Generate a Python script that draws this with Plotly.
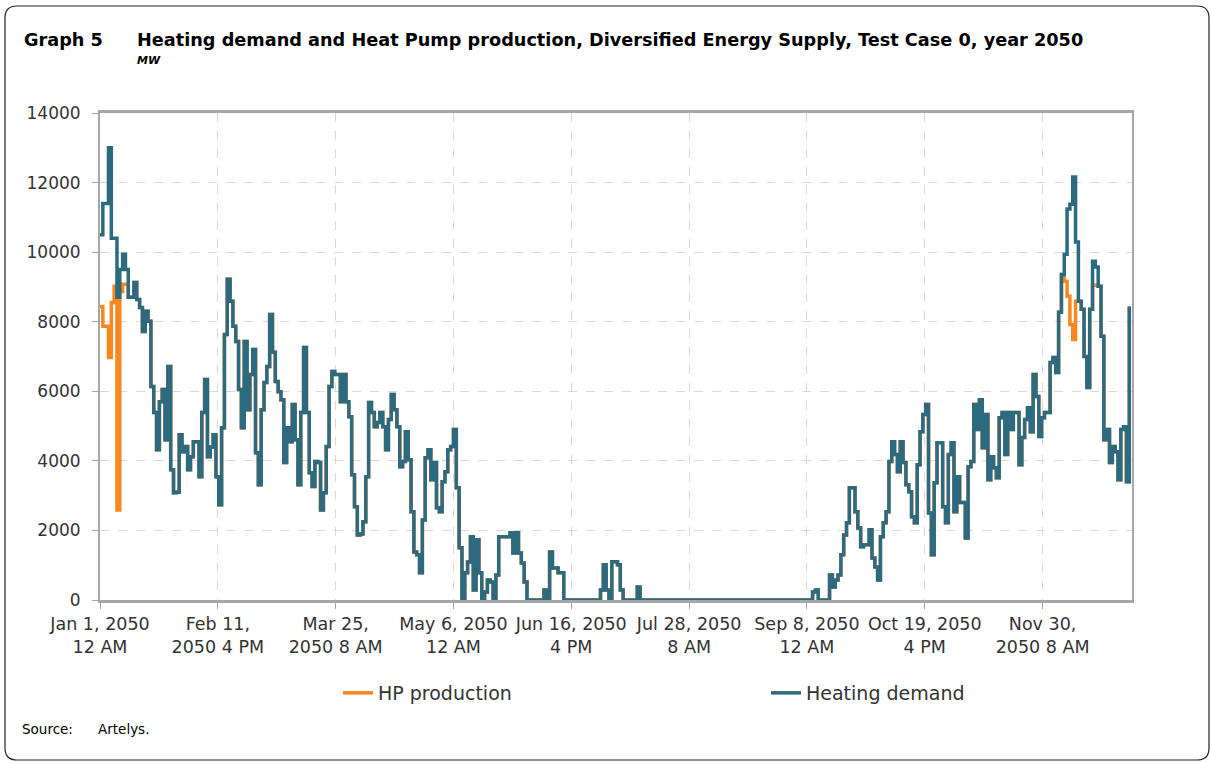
import pandas as pd
import plotly.graph_objects as go

# daily heating demand, MW (one value per day of 2050)
heating_demand = [
    10500, 11400, 11400, 13000, 10400, 10400, 8700, 9500, 9940, 9500,
    8700, 8700, 9130, 8640, 8410, 7720, 8300, 8010, 6140, 5390,
    4320, 5700, 6050, 4610, 6710, 3745, 3080, 3100, 4750, 4260,
    4410, 3745, 4120, 4550, 4550, 3540, 5390, 6340, 4120, 4400,
    4750, 3540, 2740, 4950, 7630, 9220, 8590, 7870, 7430, 6050,
    4950, 7430, 5470, 6480, 7200, 4230, 3310, 5470, 6250, 6710,
    8210, 7120, 6280, 5990, 5760, 3950, 4950, 4550, 5620, 4610,
    3310, 5390, 7260, 5390, 3660, 3260, 3980, 3950, 2590, 3080,
    4410, 6140, 6570, 6480, 6480, 5700, 6480, 5700, 5270, 3600,
    2680, 1870, 1900, 2250, 3540, 5680, 5390, 4980, 5100, 5390,
    4980, 4320, 5190, 5910, 5470, 4980, 3830, 3980, 4840, 4030,
    2535, 1380, 1300, 780, 2300, 4090, 4320, 3460, 3950, 2650,
    2535, 3400, 3690, 4320, 4410, 4900, 3230, 1500, 0, 780,
    1095, 1815, 290, 1730, 780, 0, 230, 575, 520, 0,
    720, 1815, 1815, 1815, 1815, 1930, 1350, 1930, 1350, 1065,
    520, 0, 0, 0, 0, 0, 0, 290, 0, 1380,
    920, 920, 780, 780, 0, 0, 0, 0, 0, 0,
    0, 0, 0, 0, 0, 0, 0, 290, 1010, 290,
    0, 1100, 1100, 1010, 290, 0, 0, 0, 0, 0,
    375, 0, 0, 0, 0, 0, 0, 0, 0, 0,
    0, 0, 0, 0, 0, 0, 0, 0, 0, 0,
    0, 0, 0, 0, 0, 0, 0, 0, 0, 0,
    0, 0, 0, 0, 0, 0, 0, 0, 0, 0,
    0, 0, 0, 0, 0, 0, 0, 0, 0, 0,
    0, 0, 0, 0, 0, 0, 0, 0, 0, 0,
    0, 0, 230, 290, 0, 0, 0, 0, 720, 375,
    575, 720, 1300, 1870, 2220, 3230, 3230, 2535, 2070, 1530,
    1585, 1585, 2020, 1210, 950, 575, 1815, 2220, 2535, 3980,
    4550, 4180, 3690, 4550, 3950, 3310, 3110, 2390, 2220, 3890,
    4840, 5330, 5620, 2500, 1300, 3370, 4520, 4520, 2680, 2220,
    4180, 4520, 2535, 3540, 2800, 2800, 1785, 3830, 3980, 5620,
    4900, 5760, 4380, 5330, 3460, 4120, 3800, 3515, 5240, 5390,
    4180, 5390, 4900, 5390, 5390, 3890, 4670, 5190, 5530, 4840,
    6480, 5850, 4700, 5240, 5390, 5390, 6830, 6970, 6540, 8270,
    9360, 9940, 11240, 11380, 12160, 10290, 8590, 8360, 7000, 6110,
    8360, 9740, 9570, 9020, 7580, 4610, 4900, 3950, 4410, 4260,
    3460, 4900, 4980, 3400, 8440,
]

# days where heat pump output falls short of demand
hp_short_days = [0, 1, 2, 3, 4, 5, 6, 7, 8, 9, 341, 342, 343, 344, 345, 351, 352]
hp_short_values = [8440, 7870, 7870, 6970, 8550, 9020, 2590, 8870, 9075, 9075,
                   9160, 8730, 7920, 7490, 8590, 9050, 9050]

tick_text = [
    "Jan 1, 2050<br>12 AM", "Feb 11,<br>2050 4 PM", "Mar 25,<br>2050 8 AM",
    "May 6, 2050<br>12 AM", "Jun 16, 2050<br>4 PM", "Jul 28, 2050<br>8 AM",
    "Sep 8, 2050<br>12 AM", "Oct 19, 2050<br>4 PM", "Nov 30,<br>2050 8 AM",
]

dates = pd.date_range("2050-01-01", periods=len(heating_demand), freq="D")
hp_production = list(heating_demand)
for d, v in zip(hp_short_days, hp_short_values):
    hp_production[d] = v

tick_vals = pd.date_range("2050-01-01", periods=len(tick_text), freq="1000h")

FONT = "DejaVu Sans"
BLUE = "#2c6a80"
ORANGE = "#f7871f"

W, H = 1211, 763
L, R, T, B = 100, 1132, 113, 600


def px(x):
    return (x - L) / (R - L)


def py(y):
    return (B - y) / (B - T)


fig = go.Figure()
fig.add_trace(go.Scatter(x=dates, y=hp_production, name="HP production", legend="legend",
                         mode="lines", line=dict(color=ORANGE, width=3.5, shape="hv")))
fig.add_trace(go.Scatter(x=dates, y=heating_demand, name="Heating demand", legend="legend2",
                         mode="lines", line=dict(color=BLUE, width=3.5, shape="hv")))

axis_common = dict(showline=True, linecolor="#a6a6a6", mirror=True,
                   gridcolor="#d9d9d9", griddash="dash", gridwidth=1,
                   ticks="outside", ticklen=6, tickcolor="#a6a6a6",
                   zeroline=False)

fig.update_xaxes(range=["2050-01-01", "2050-12-31 23:00"], tickvals=tick_vals,
                 ticktext=tick_text, linewidth=3,
                 tickfont=dict(family=FONT, size=17.5, color="#333333"), **axis_common)
fig.update_yaxes(range=[0, 14000], dtick=2000, tickformat="d", linewidth=2,
                 ticklabelstandoff=8,
                 tickfont=dict(family=FONT, size=17, color="#333333"), **axis_common)

# rounded outer frame
x0, x1, y0, y1 = px(5), px(1209), py(6), py(760)
rx, ry = 12 / (R - L), 12 / (B - T)
frame = (f"M{x0 + rx},{y0} L{x1 - rx},{y0} Q{x1},{y0} {x1},{y0 - ry} "
         f"L{x1},{y1 + ry} Q{x1},{y1} {x1 - rx},{y1} L{x0 + rx},{y1} "
         f"Q{x0},{y1} {x0},{y1 + ry} L{x0},{y0 - ry} Q{x0},{y0} {x0 + rx},{y0} Z")
fig.add_shape(type="path", path=frame, xref="paper", yref="paper",
              line=dict(color="#222222", width=1.2), layer="below")

annots = [
    (22, 40, "<b>Graph 5</b>", 17.7),
    (135, 40, "<b>Heating demand and Heat Pump production, Diversified Energy Supply, Test Case 0, year 2050</b>", 17.7),
    (135, 60, "<b><i>MW</i></b>", 11),
    (20, 729, "Source:", 13.5),
    (96, 729, "Artelys.", 13.5),
]
for x, y, text, size in annots:
    fig.add_annotation(x=px(x), y=py(y), xref="paper", yref="paper", text=text,
                       showarrow=False, xanchor="left", yanchor="middle",
                       font=dict(family=FONT, size=size, color="#000000"))

legend_style = dict(orientation="h", xanchor="left", yanchor="middle", y=py(693),
                    font=dict(family=FONT, size=19, color="#333333"),
                    bgcolor="rgba(0,0,0,0)")

fig.update_layout(
    width=W, height=H,
    margin=dict(l=L, r=W - R, t=T, b=H - B),
    paper_bgcolor="white", plot_bgcolor="white",
    font=dict(family=FONT, color="#333333"),
    showlegend=True,
    legend=dict(x=px(338), **legend_style),
    legend2=dict(x=px(766), **legend_style),
)

fig.write_html("out.html", config={"displayModeBar": False},
               post_script="document.body.style.margin='0px';")
